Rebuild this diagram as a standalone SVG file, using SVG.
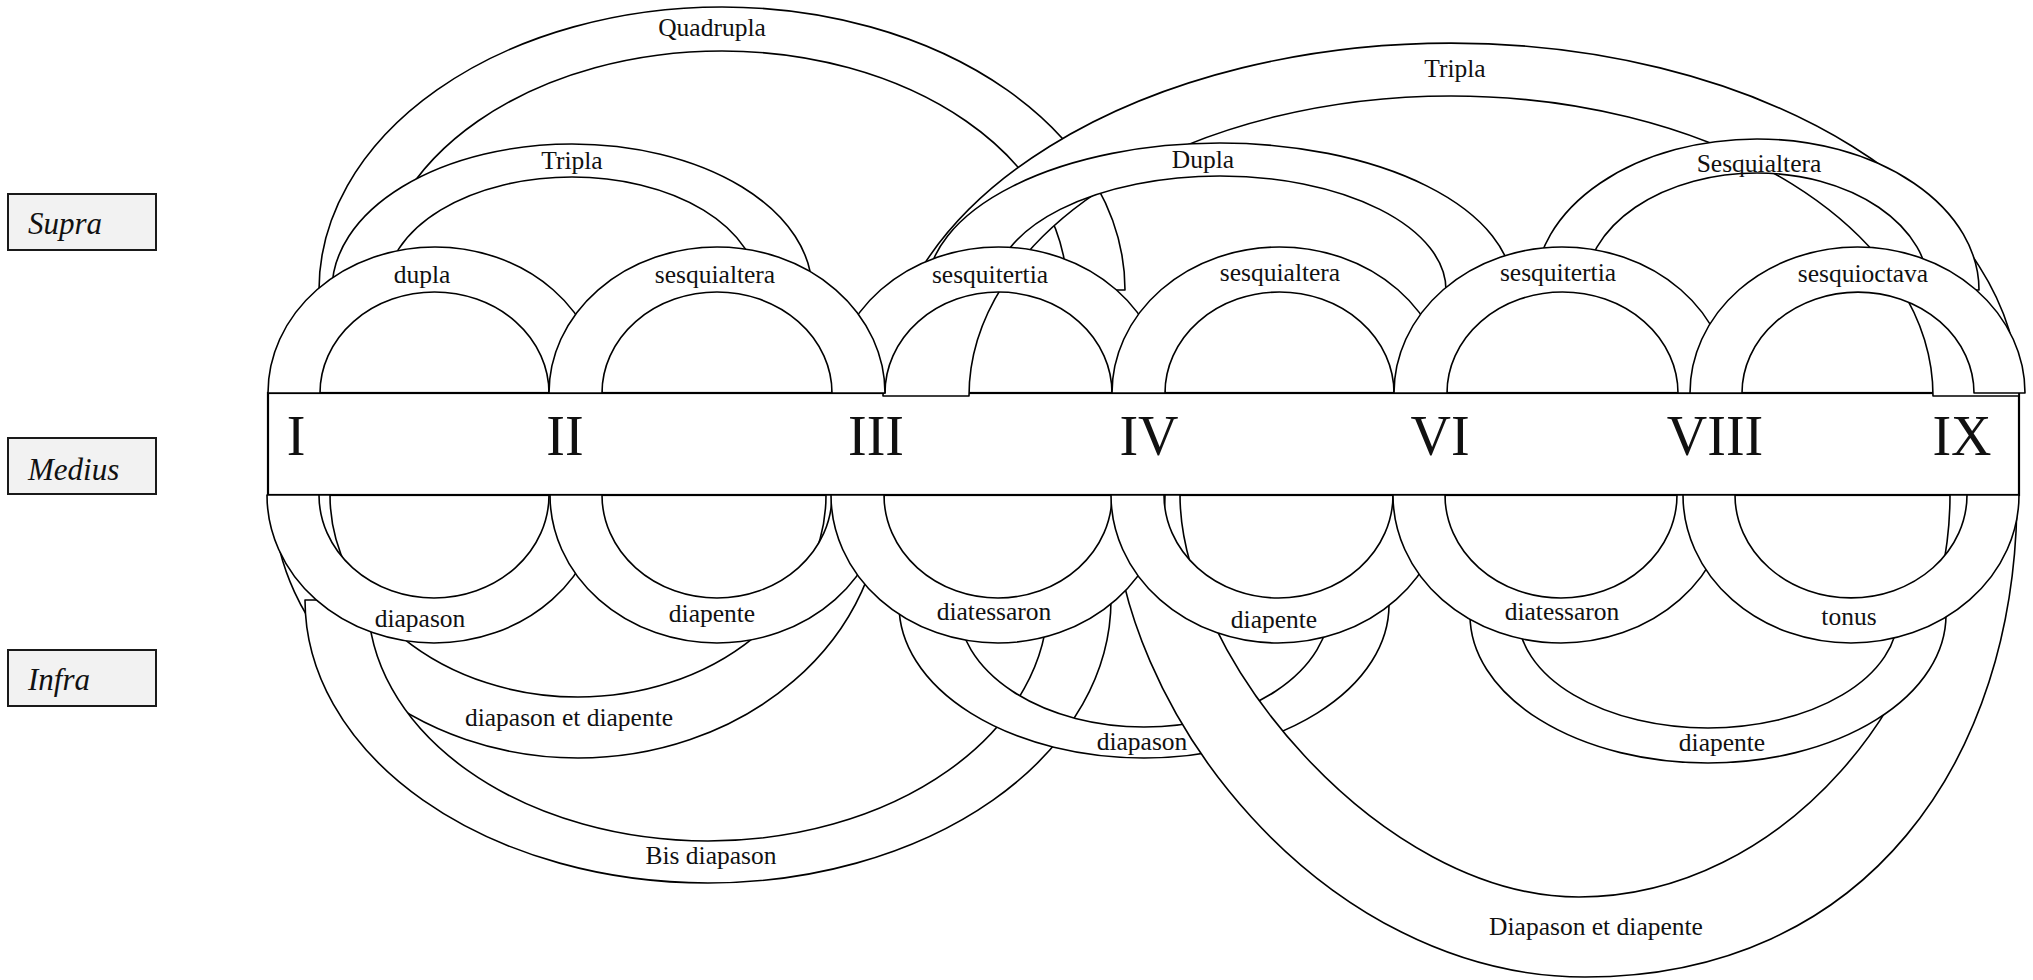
<svg xmlns="http://www.w3.org/2000/svg" width="2033" height="980" viewBox="0 0 2033 980">
  <style>
    .band { fill: #ffffff; stroke: #000000; stroke-width: 1.6; stroke-linejoin: round; }
    .bar { fill: #ffffff; stroke: #000000; stroke-width: 2.2; }
    .box { fill: #f2f2f2; stroke: #1a1a1a; stroke-width: 2; }
    .lbl { font-family: "Liberation Serif", "Times New Roman", serif; font-size: 25.5px; text-anchor: middle; fill: #111111; }
    .num { font-family: "Liberation Serif", "Times New Roman", serif; font-size: 56px; text-anchor: middle; fill: #111111; }
    .side { font-family: "Liberation Serif", "Times New Roman", serif; font-size: 31px; font-style: italic; fill: #111111; }
  </style>

  <rect width="2033" height="980" fill="#ffffff"/>

  <!-- row captions -->
  <g id="supra">
    <rect class="box" x="8" y="194" width="148" height="56"/>
    <text class="side" x="28" y="234">Supra</text>
  </g>
  <g id="medius">
    <rect class="box" x="8" y="438" width="148" height="56"/>
    <text class="side" x="28" y="480">Medius</text>
  </g>
  <g id="infra">
    <rect class="box" x="8" y="650" width="148" height="56"/>
    <text class="side" x="28" y="690">Infra</text>
  </g>

  <!-- the row of terms -->
  <g id="terms">
    <rect class="bar" x="268" y="393" width="1751" height="102"/>
    <g id="term-I"><text class="num" x="296" y="455">I</text></g>
    <g id="term-II"><text class="num" x="565" y="455">II</text></g>
    <g id="term-III"><text class="num" x="876" y="455">III</text></g>
    <g id="term-IV"><text class="num" x="1149" y="455">IV</text></g>
    <g id="term-VI"><text class="num" x="1440" y="455">VI</text></g>
    <g id="term-VIII"><text class="num" x="1715" y="455">VIII</text></g>
    <g id="term-IX"><text class="num" x="1962" y="455">IX</text></g>
  </g>

  <!-- ratio bands, drawn back to front -->
  <g id="connectors">
    <!-- upper side: wide bands first -->
    <g id="supra-quadrupla">
      <path class="band" d="M 319,290 A 403,283 0 0 1 1125,290 L 1067,290 A 345,239 0 0 0 377,290 Z"/>
      <text class="lbl" x="712" y="36">Quadrupla</text>
    </g>
    <g id="supra-tripla-I-III">
      <path class="band" d="M 332,290 A 240,146 0 0 1 812,290 L 758,290 A 186,113 0 0 0 386,290 Z"/>
      <text class="lbl" x="572" y="169">Tripla</text>
    </g>
    <g id="supra-tripla-III-IX">
      <path class="band" d="M 883,396 A 568,353 0 0 1 2019,396 L 1933,396 A 482,300 0 0 0 969,396 Z"/>
      <text class="lbl" x="1455" y="77">Tripla</text>
    </g>
    <g id="supra-dupla-III-VI">
      <path class="band" d="M 927,290 A 293,147 0 0 1 1513,290 L 1446,290 A 226,114 0 0 0 994,290 Z"/>
      <text class="lbl" x="1203" y="168">Dupla</text>
    </g>
    <g id="supra-sesquialtera-VI-IX">
      <path class="band" d="M 1535,290 A 222,151 0 0 1 1979,290 L 1929,290 A 172,117 0 0 0 1585,290 Z"/>
      <text class="lbl" x="1759" y="172">Sesquialtera</text>
    </g>

    <!-- upper side: neighbouring terms -->
    <g id="supra-dupla-I-II">
      <path class="band" d="M 268,393 A 167,146 0 0 1 602,393 L 549,393 A 114.5,101 0 0 0 320,393 Z"/>
      <text class="lbl" x="422" y="283">dupla</text>
    </g>
    <g id="supra-sesquitertia-III-IV">
      <path class="band" d="M 832,393 A 166.5,146 0 0 1 1165,393 L 1112,393 A 113.5,101 0 0 0 885,393 Z"/>
      <text class="lbl" x="990" y="283">sesquitertia</text>
    </g>
    <g id="supra-sesquialtera-II-III">
      <path class="band" d="M 549,393 A 168,146 0 0 1 885,393 L 832,393 A 115,101 0 0 0 602,393 Z"/>
      <text class="lbl" x="715" y="283">sesquialtera</text>
    </g>
    <g id="supra-sesquialtera-IV-VI">
      <path class="band" d="M 1112,393 A 167.5,146 0 0 1 1447,393 L 1394,393 A 114.5,101 0 0 0 1165,393 Z"/>
      <text class="lbl" x="1280" y="281">sesquialtera</text>
    </g>
    <g id="supra-sesquitertia-VI-VIII">
      <path class="band" d="M 1394,393 A 168,146 0 0 1 1730,393 L 1678,393 A 115.5,101 0 0 0 1447,393 Z"/>
      <text class="lbl" x="1558" y="281">sesquitertia</text>
    </g>
    <g id="supra-sesquioctava-VIII-IX">
      <path class="band" d="M 1690,393 A 167.5,146 0 0 1 2025,393 L 1974,393 A 116,101 0 0 0 1742,393 Z"/>
      <text class="lbl" x="1863" y="282">sesquioctava</text>
    </g>

    <!-- lower side: wide bands first -->
    <g id="infra-diapason-et-diapente-I-III">
      <path class="band" d="M 273,495 A 305,263 0 0 0 883,495 L 826,495 A 248,202 0 0 1 330,495 Z"/>
      <text class="lbl" x="569" y="726">diapason et diapente</text>
    </g>
    <g id="infra-bis-diapason">
      <path class="band" d="M 305,600 A 403,283 0 0 0 1111,600 L 1048,600 A 340,241 0 0 1 368,600 Z"/>
      <text class="lbl" x="711" y="864">Bis diapason</text>
    </g>
    <g id="infra-diapason-III-VI">
      <path class="band" d="M 899,605 A 245,153 0 0 0 1389,605 L 1330,605 A 186,122 0 0 1 958,605 Z"/>
      <text class="lbl" x="1142" y="750">diapason</text>
    </g>
    <g id="infra-diapason-et-diapente-IV-IX">
      <path class="band" d="M 1113,495 C 1113,711 1324.5,977 1585,977 C 1865.8,977 2017,760 2017,495 L 1950,495 C 1950,695 1783,897 1579,897 C 1379.5,897 1180,655 1180,495 Z"/>
      <text class="lbl" x="1596" y="935">Diapason et diapente</text>
    </g>
    <g id="infra-diapente-VI-IX">
      <path class="band" d="M 1470,615 A 238,148 0 0 0 1946,615 L 1898,615 A 190,113 0 0 1 1518,615 Z"/>
      <text class="lbl" x="1722" y="751">diapente</text>
    </g>

    <!-- lower side: neighbouring terms -->
    <g id="infra-diapason-I-II">
      <path class="band" d="M 267,495 A 167,148 0 0 0 601,495 L 549,495 A 115,103 0 0 1 319,495 Z"/>
      <text class="lbl" x="420" y="627">diapason</text>
    </g>
    <g id="infra-diapente-II-III">
      <path class="band" d="M 550,495 A 167,148 0 0 0 884,495 L 832,495 A 115,103 0 0 1 602,495 Z"/>
      <text class="lbl" x="712" y="622">diapente</text>
    </g>
    <g id="infra-diatessaron-III-IV">
      <path class="band" d="M 831,495 A 167,148 0 0 0 1165,495 L 1112,495 A 114,103 0 0 1 884,495 Z"/>
      <text class="lbl" x="994" y="620">diatessaron</text>
    </g>
    <g id="infra-diapente-IV-VI">
      <path class="band" d="M 1111,495 A 167,148 0 0 0 1445,495 L 1393,495 A 114.5,103 0 0 1 1164,495 Z"/>
      <text class="lbl" x="1274" y="628">diapente</text>
    </g>
    <g id="infra-diatessaron-VI-VIII">
      <path class="band" d="M 1393,495 A 168,148 0 0 0 1729,495 L 1677,495 A 116,103 0 0 1 1445,495 Z"/>
      <text class="lbl" x="1562" y="620">diatessaron</text>
    </g>
    <g id="infra-tonus-VIII-IX">
      <path class="band" d="M 1683,495 A 168,148 0 0 0 2019,495 L 1967,495 A 116,103 0 0 1 1735,495 Z"/>
      <text class="lbl" x="1849" y="625">tonus</text>
    </g>
  </g>
</svg>
